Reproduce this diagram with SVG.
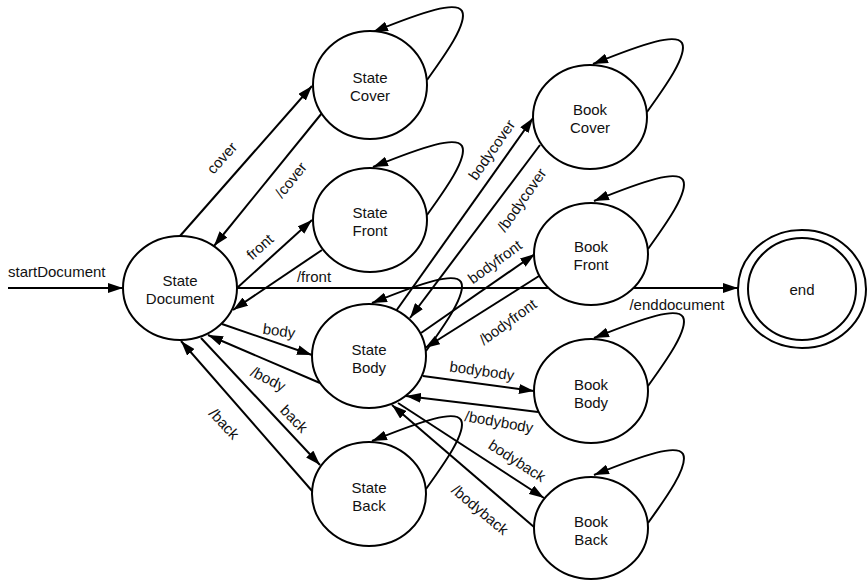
<svg xmlns="http://www.w3.org/2000/svg" width="867" height="581" viewBox="0 0 867 581">
<defs>
<style>
.n{fill:#fff;stroke:#000;stroke-width:2}
.t{font-family:"Liberation Sans",Arial,sans-serif;font-size:15px;fill:#111;text-anchor:middle}
.l{font-family:"Liberation Sans",Arial,sans-serif;font-size:15px;fill:#111;text-anchor:middle}
.e{fill:none;stroke:#000;stroke-width:2;marker-end:url(#ah)}
</style>
<marker id="ah" viewBox="0 0 15 10" refX="15" refY="5" markerWidth="15" markerHeight="10" orient="auto" markerUnits="userSpaceOnUse"><path d="M0,0 L15,5 L0,10 z" fill="#000"/></marker>
</defs>
<rect width="867" height="581" fill="#fff"/>
<g id="connectors">
<path class="e" d="M8,288 L123,288"/>
<path class="e" d="M180,236 L312,86"/>
<path class="e" d="M322,113 L214,246"/>
<path class="e" d="M237,288 L312,220"/>
<path class="e" d="M322,250 L233,310"/>
<path class="e" d="M237,288 L738,288"/>
<path class="e" d="M222,324 L312,355"/>
<path class="e" d="M320,383 L208,335"/>
<path class="e" d="M201,338 L320,465"/>
<path class="e" d="M313,492 L181,341"/>
<path class="e" d="M396,311 L533,118"/>
<path class="e" d="M540,145 L410,318"/>
<path class="e" d="M421,333 L535,254"/>
<path class="e" d="M539,276 L425,348"/>
<path class="e" d="M423,376 L534,391"/>
<path class="e" d="M538,412 L406,396"/>
<path class="e" d="M398,403 L544,498"/>
<path class="e" d="M534,527 L392,405"/>
<path class="e" d="M427,80 C445,55 468,23 462,11 C456,1 425,11 373,32"/>
<path class="e" d="M427,215 C445,190 468,158 462,146 C456,136 425,146 373,167"/>
<path class="e" d="M647,112 C665,87 688,55 682,43 C676,33 645,43 593,64"/>
<path class="e" d="M648,249 C666,224 689,192 683,180 C677,170 646,180 594,201"/>
<path class="e" d="M426,351 C444,326 467,294 461,282 C455,272 424,282 372,303"/>
<path class="e" d="M648,386 C666,361 689,329 683,317 C677,307 646,317 594,338"/>
<path class="e" d="M426,489 C444,464 467,432 461,420 C455,410 424,420 372,441"/>
<path class="e" d="M648,523 C666,498 689,466 683,454 C677,444 646,454 594,475"/>
</g>
<g id="labels">
<text class="l" x="8" y="277" style="text-anchor:start">startDocument</text>
<text class="l" transform="translate(222,158) rotate(-48)" y="5">cover</text>
<text class="l" transform="translate(291,180) rotate(-51)" y="5">/cover</text>
<text class="l" transform="translate(260,247) rotate(-42)" y="5">front</text>
<text class="l" x="314" y="282">/front</text>
<text class="l" transform="translate(279,331) rotate(8)" y="5">body</text>
<text class="l" transform="translate(268,379) rotate(27)" y="5">/body</text>
<text class="l" transform="translate(294,419) rotate(45)" y="5">back</text>
<text class="l" transform="translate(224,424) rotate(47)" y="5">/back</text>
<text class="l" transform="translate(492,150) rotate(-55)" y="5">bodycover</text>
<text class="l" transform="translate(522,200) rotate(-55)" y="5">/bodycover</text>
<text class="l" transform="translate(495,262) rotate(-36)" y="5">bodyfront</text>
<text class="l" transform="translate(508,322) rotate(-36)" y="5">/bodyfront</text>
<text class="l" transform="translate(482,371) rotate(8)" y="5">bodybody</text>
<text class="l" transform="translate(499,422) rotate(10)" y="5">/bodybody</text>
<text class="l" transform="translate(517,461) rotate(33)" y="5">bodyback</text>
<text class="l" transform="translate(480,510) rotate(40)" y="5">/bodyback</text>
<text class="l" x="677" y="310">/enddocument</text>
</g>
<g id="stateDocument"><ellipse class="n" cx="180" cy="288" rx="57" ry="52"/><text class="t" x="180" y="286">State</text><text class="t" x="180" y="304">Document</text></g>
<g id="stateCover"><ellipse class="n" cx="370" cy="85" rx="57" ry="54"/><text class="t" x="370" y="83">State</text><text class="t" x="370" y="101">Cover</text></g>
<g id="stateFront"><ellipse class="n" cx="370" cy="220" rx="57" ry="52"/><text class="t" x="370" y="218">State</text><text class="t" x="370" y="236">Front</text></g>
<g id="stateBody"><ellipse class="n" cx="369" cy="356" rx="57" ry="52"/><text class="t" x="369" y="355">State</text><text class="t" x="369" y="373">Body</text></g>
<g id="stateBack"><ellipse class="n" cx="369" cy="494" rx="57" ry="52"/><text class="t" x="369" y="493">State</text><text class="t" x="369" y="511">Back</text></g>
<g id="bookCover"><ellipse class="n" cx="590" cy="117" rx="57" ry="52"/><text class="t" x="590" y="115">Book</text><text class="t" x="590" y="133">Cover</text></g>
<g id="bookFront"><ellipse class="n" cx="591" cy="254" rx="57" ry="51"/><text class="t" x="591" y="252">Book</text><text class="t" x="591" y="270">Front</text></g>
<g id="bookBody"><ellipse class="n" cx="591" cy="391" rx="57" ry="52"/><text class="t" x="591" y="390">Book</text><text class="t" x="591" y="408">Body</text></g>
<g id="bookBack"><ellipse class="n" cx="591" cy="528" rx="57" ry="51"/><text class="t" x="591" y="527">Book</text><text class="t" x="591" y="545">Back</text></g>
<g id="end"><ellipse class="n" cx="802" cy="289" rx="64" ry="59"/><ellipse class="n" cx="802" cy="289" rx="54" ry="51"/><text class="t" x="802" y="295">end</text></g>
</svg>
